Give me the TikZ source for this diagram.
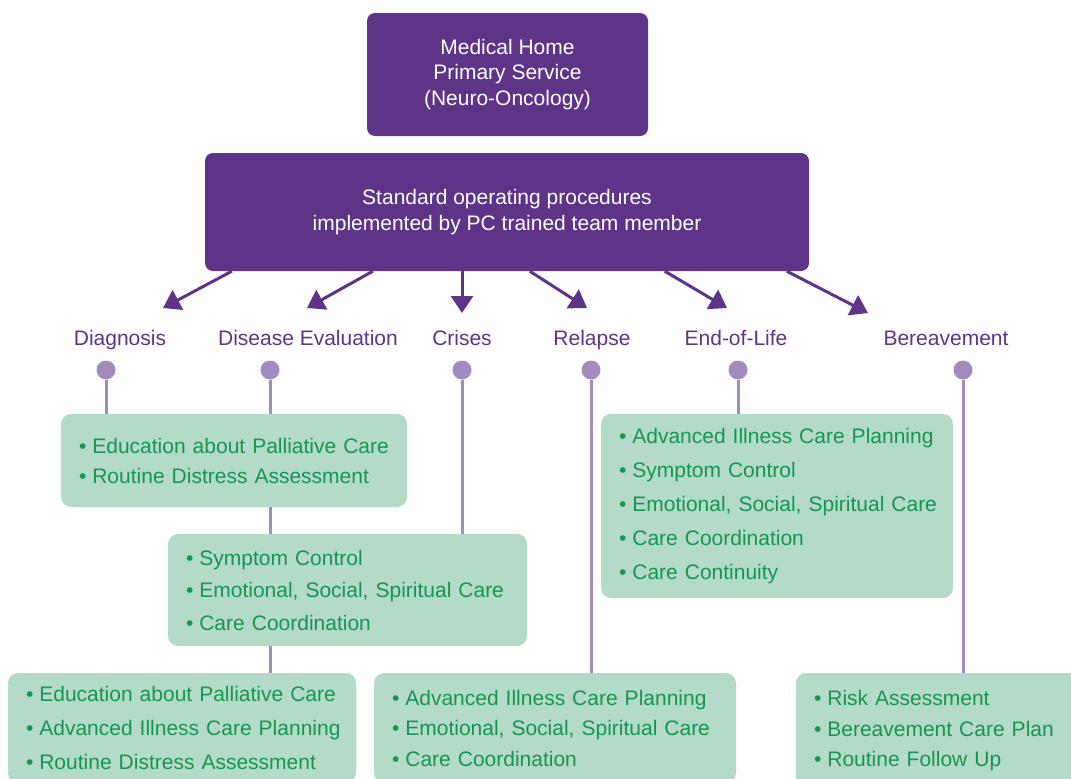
\documentclass[tikz,border=0pt]{standalone}
\usepackage{fontspec}
\setmainfont{Liberation Sans}
\usetikzlibrary{arrows.meta}

\definecolor{plum}{RGB}{94,52,137}
\definecolor{lilac}{RGB}{163,139,190}
\definecolor{mint}{RGB}{179,219,200}
\definecolor{leaf}{RGB}{22,150,80}

\newcommand{\itm}[1]{\mbox{\textbullet\hspace{6pt}#1}}

\tikzset{
	hub/.style={fill=plum, rounded corners=8pt, text=white, align=center, inner sep=0pt, font=\fontsize{21}{25.5}\selectfont},
	stage/.style={text=plum, inner sep=0pt, anchor=base, font=\fontsize{21}{23}\selectfont},
	pin/.style={circle, fill=lilac, inner sep=0pt, minimum size=19pt},
	task/.style={fill=mint, rounded corners=10pt, text=leaf, align=left, inner xsep=18pt, inner ysep=0pt, font=\fontsize{21}{30}\selectfont},
	flow/.style={plum, line width=3pt, -{Triangle[width=22pt,length=17pt]}},
	feed/.style={lilac, line width=3pt}
}

\begin{document}
\begin{tikzpicture}[x=1pt,y=-1pt]
	\useasboundingbox (0,0) rectangle (1071,779);
	\clip (0,0) rectangle (1071,779);

	% the two purple boxes at the top
	\node[hub, minimum width=281pt, minimum height=123pt] (home) at (507.5,74.5) {Medical Home\\Primary Service\\(Neuro-Oncology)};
	\node[hub, minimum width=604pt, minimum height=118pt] (sop) at (507,212) {Standard operating procedures\\implemented by PC trained team member};

	% stages
	\node[stage] (diag) at (120,345) {Diagnosis};
	\node[stage] (deval) at (308,345) {Disease Evaluation};
	\node[stage] (crises) at (462,345) {Crises};
	\node[stage] (relapse) at (592,345) {Relapse};
	\node[stage] (eol) at (736,345) {End-of-Life};
	\node[stage] (bereave) at (946,345) {Bereavement};

	\coordinate (diag-tip) at (163,308);
	\coordinate (deval-tip) at (307,308);
	\coordinate (crises-tip) at (462,313);
	\coordinate (relapse-tip) at (587,308);
	\coordinate (eol-tip) at (727,308);
	\coordinate (bereave-tip) at (868,313);

	\draw[flow] ([xshift=27pt]sop.south west) -- (diag-tip);
	\draw[flow] ([xshift=168pt]sop.south west) -- (deval-tip);
	\draw[flow] (sop.south -| crises-tip) -- (crises-tip);
	\draw[flow] ([xshift=325pt]sop.south west) -- (relapse-tip);
	\draw[flow] ([xshift=460pt]sop.south west) -- (eol-tip);
	\draw[flow] ([xshift=582pt]sop.south west) -- (bereave-tip);

	% pins under the stages
	\node[pin] (diag-pin) at (106,370) {};
	\node[pin] (deval-pin) at (270,370) {};
	\node[pin] (crises-pin) at (462,370) {};
	\node[pin] (relapse-pin) at (591,370) {};
	\node[pin] (eol-pin) at (738,370) {};
	\node[pin] (bereave-pin) at (963,370) {};

	% green boxes
	\node[task, text width=310pt, minimum height=93pt] (intro) at (234,460.5) {\itm{Education about Palliative Care}\\\itm{Routine Distress Assessment}};
	\node[task, text width=323pt, minimum height=112pt, font=\fontsize{21}{32.5}\selectfont] (support) at (347.5,590) {\itm{Symptom Control}\\\itm{Emotional, Social, Spiritual Care}\\\itm{Care Coordination}};
	\node[task, text width=316pt, minimum height=184pt, font=\fontsize{21}{34}\selectfont] (endcare) at (777,506) {\itm{Advanced Illness Care Planning}\\\itm{Symptom Control}\\\itm{Emotional, Social, Spiritual Care}\\\itm{Care Coordination}\\\itm{Care Continuity}};
	\node[task, text width=312pt, minimum height=110pt, font=\fontsize{21}{34}\selectfont] (review) at (182,728) {\itm{Education about Palliative Care}\\\itm{Advanced Illness Care Planning}\\\itm{Routine Distress Assessment}};
	\node[task, text width=326pt, minimum height=110pt, font=\fontsize{21}{30.5}\selectfont] (recur) at (555,728) {\itm{Advanced Illness Care Planning}\\\itm{Emotional, Social, Spiritual Care}\\\itm{Care Coordination}};
	\node[task, text width=264pt, minimum height=116pt, font=\fontsize{21}{30.5}\selectfont] (grief) at (946,731) {\itm{Risk Assessment}\\\itm{Bereavement Care Plan}\\\itm{Routine Follow Up}};

	% lines from pins to boxes
	\draw[feed] (diag-pin) -- (intro.north -| diag-pin);
	\draw[feed] (deval-pin) -- (intro.north -| deval-pin);
	\draw[feed] (intro.south -| deval-pin) -- (support.north -| deval-pin);
	\draw[feed] (support.south -| deval-pin) -- (review.north -| deval-pin);
	\draw[feed] (crises-pin) -- (support.north -| crises-pin);
	\draw[feed] (relapse-pin) -- (recur.north -| relapse-pin);
	\draw[feed] (eol-pin) -- (endcare.north -| eol-pin);
	\draw[feed] (bereave-pin) -- (grief.north -| bereave-pin);
\end{tikzpicture}
\end{document}
